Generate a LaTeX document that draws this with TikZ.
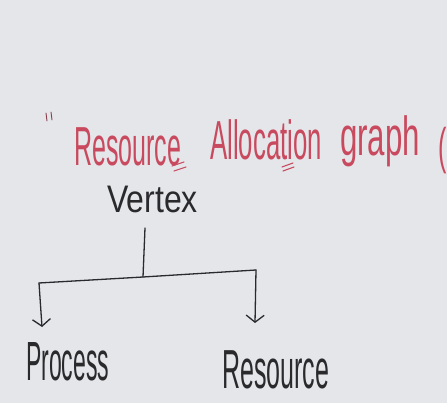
\documentclass[tikz,border=0pt]{standalone}
\usepackage{fontspec}
\setmainfont{Liberation Sans}
\usetikzlibrary{arrows.meta}
\definecolor{board}{HTML}{E4E6EA}
\definecolor{marker}{HTML}{C94A5E}
\definecolor{ink}{HTML}{2A2A2C}
\tikzset{
  ttl/.style={text=marker, inner sep=0pt, anchor=base west, font=\fontsize{25}{25}\selectfont},
  blk/.style={text=ink, inner sep=0pt, anchor=base west},
  wire/.style={draw=ink, line width=1.3pt, line cap=round, line join=round},
  arr/.style={wire, -{Straight Barb[length=7pt,width=18pt,line width=1.3pt]}},
  redmark/.style={draw=marker, line width=1.1pt, line cap=round},
}
\begin{document}
\begin{tikzpicture}[x=1pt,y=-1pt]
\useasboundingbox[fill=board] (0,0) rectangle (447,403);
% title
\draw[draw=marker!60!ink, line width=0.9pt, line cap=round] (46,113) -- (47,121) (51,112) -- (52,120);
\node[ttl] (w1) at (74,166) {\scalebox{1}[2.2]{Resource}};
\node[ttl] (w2) at (210,160) {\scalebox{1.03}[2.2]{Allocation}};
\node[ttl] (w3) at (340,156) {\scalebox{1.25}[2.2]{graph}};
\node[ttl] (w4) at (438,164) {\scalebox{1}[2.0]{(}};
\draw[redmark] (172,166) -- (184,162) (174,171) -- (186,167);
\draw[redmark] (282,167) -- (293,163) (283,171) -- (294,167);
% tree
\node[blk, font=\fontsize{32}{32}\selectfont] (vx) at (107,213) {\scalebox{1}[1.2]{Vertex}};
\node[blk, font=\fontsize{23}{23}\selectfont] (pr) at (26,380) {\scalebox{1}[2.4]{Process}};
\node[blk, font=\fontsize{25}{25}\selectfont] (rs) at (222,388) {\scalebox{1}[2.2]{Resource}};
\coordinate (top) at (145,228);
\coordinate (j) at (143,277);
\coordinate (l) at (39,283);
\coordinate (r) at (256,270);
\coordinate (la) at (42,327);
\coordinate (ra) at (255,323);
\draw[wire] (top) -- (j);
\draw[wire] (l) -- (j) -- (r);
\draw[arr] (l) -- (la);
\draw[arr] (r) -- (ra);
\end{tikzpicture}
\end{document}
